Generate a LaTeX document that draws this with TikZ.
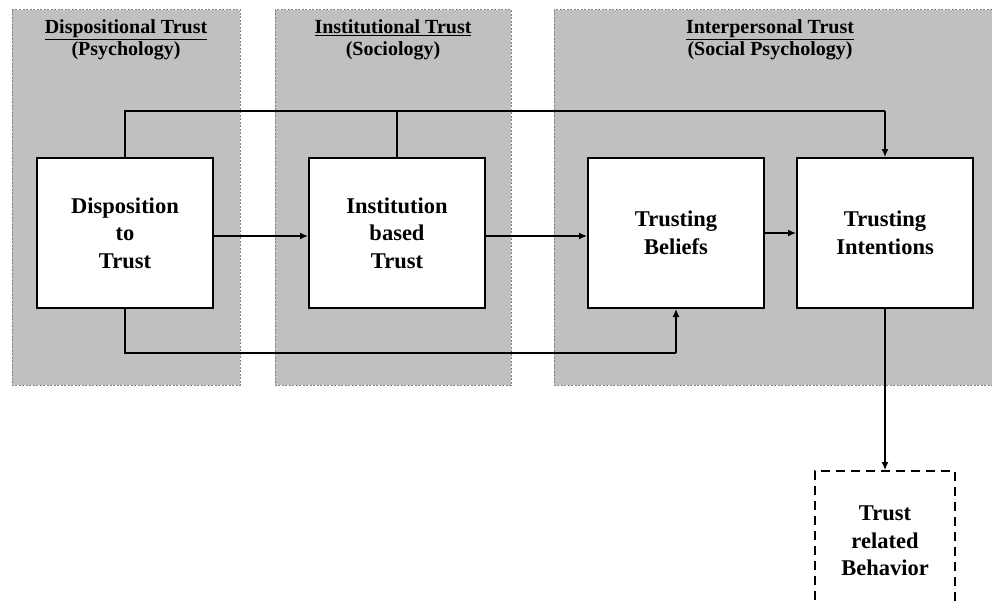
\documentclass[tikz,border=0pt]{standalone}
\usepackage{fontspec}
\setmainfont{Liberation Serif}
\usetikzlibrary{arrows.meta}
\definecolor{panelgray}{RGB}{192,192,192}
\definecolor{panelline}{RGB}{130,130,130}
\begin{document}
\begin{tikzpicture}[x=1pt,y=-1pt,
  panel/.style={fill=panelgray, draw=panelline, dash pattern=on 2pt off 1.5pt, line width=1pt},
  stage/.style={draw=black, fill=white, line width=2pt, minimum width=176pt, minimum height=150pt,
    align=center, font=\bfseries\fontsize{22.5}{27.5}\selectfont, inner sep=0pt},
  outcome/.style={draw=black, fill=white, line width=2pt, dash pattern=on 9pt off 6pt,
    minimum width=140pt, minimum height=140pt, align=center,
    font=\bfseries\fontsize{22.5}{27.5}\selectfont, inner sep=0pt},
  heading/.style={align=center, font=\bfseries\fontsize{20}{22}\selectfont},
  link/.style={line width=1.3pt, -{Latex[length=8pt,width=7pt]}},
  plain/.style={line width=1.3pt}]
\useasboundingbox (0,0) rectangle (992,602);

% background panels
\draw[panel] (12,10) rectangle (240,385);
\draw[panel] (275,10) rectangle (511,385);
\draw[panel] (554,10) rectangle (1000,385);

% panel headings
\node[heading] (h1) at (126,40) {\underline{Dispositional Trust}\\(Psychology)};
\node[heading] (h2) at (393,40) {\underline{Institutional Trust}\\(Sociology)};
\node[heading] (h3) at (770,40) {\underline{Interpersonal Trust}\\(Social Psychology)};

% stages
\node[stage] (disp) at (125,233) {Disposition\\to\\Trust};
\node[stage] (inst) at (397,233) {Institution\\based\\Trust};
\node[stage] (bel)  at (676,233) {Trusting\\Beliefs};
\node[stage] (int)  at (885,233) {Trusting\\Intentions};
\node[outcome] (beh) at (885,541) {Trust\\related\\Behavior};

% junction points of the routed lines
\coordinate (topL) at (disp.north |- 0,111);
\coordinate (topM) at (inst.north |- 0,111);
\coordinate (topR) at (int.north |- 0,111);
\coordinate (botL) at (disp.south |- 0,353);
\coordinate (botR) at (bel.south |- 0,353);

% connectors
\draw[link] (disp.east |- 0,236) -- (inst.west |- 0,236);
\draw[link] (inst.east |- 0,236) -- (bel.west |- 0,236);
\draw[link] (bel.east |- 0,233) -- (int.west |- 0,233);
\draw[plain] (disp.north) -- (topL) -- (topR);
\draw[plain] (inst.north) -- (topM);
\draw[link] (topR) -- (int.north);
\draw[plain] (disp.south) -- (botL) -- (botR);
\draw[link] (botR) -- (bel.south);
\draw[link] (int.south) -- (beh.north);
\end{tikzpicture}
\end{document}
